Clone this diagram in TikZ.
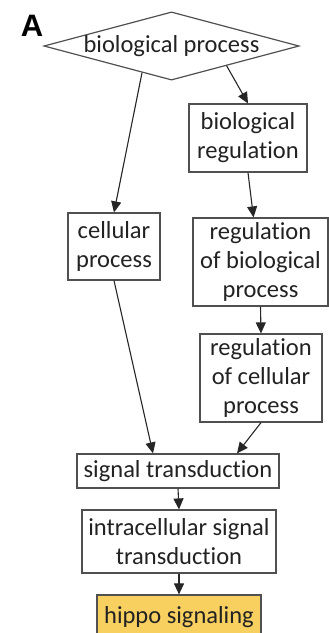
\documentclass[tikz,border=0pt]{standalone}
\usepackage{fontspec}
\setmainfont[Ligatures={NoCommon}]{Carlito}
\newfontfamily\labelfont{Liberation Sans}
\usetikzlibrary{shapes.geometric,arrows.meta,calc}
\definecolor{boxline}{HTML}{505050}
\definecolor{txt}{HTML}{222222}
\definecolor{hippofill}{HTML}{F8D060}
\begin{document}
\begin{tikzpicture}[x=1pt,y=-1pt,
  every node/.style={font=\fontsize{24.5}{29}\selectfont, text=txt},
  gobox/.style={draw=boxline, line width=1.2pt, rectangle, inner sep=0pt, align=center},
  conn/.style={draw=black!85, line width=1.1pt, -{Triangle[length=11pt,width=10pt]}}
]
\useasboundingbox (0,0) rectangle (329,633);
\node[font=\labelfont\bfseries\fontsize{31}{32}\selectfont, text=black] (lab) at (32,26) {A};
\node[draw=boxline, line width=1.2pt, diamond, aspect=3.74, minimum width=247pt, minimum height=66pt, inner sep=0pt] (bp) at (171.5,46) {biological process};
\node[gobox, minimum width=118pt, minimum height=68pt] (br) at (248,138) {biological\\regulation};
\node[gobox, minimum width=92pt, minimum height=67pt] (cp) at (114,246.5) {cellular\\process};
\node[gobox, minimum width=135pt, minimum height=88pt] (rbp) at (260.5,262) {regulation\\of biological\\process};
\node[gobox, minimum width=122pt, minimum height=88pt] (rcp) at (261,378) {regulation\\of cellular\\process};
\node[gobox, minimum width=202pt, minimum height=34pt] (st) at (178,471) {signal transduction};
\node[gobox, minimum width=194pt, minimum height=63pt] (ist) at (179,541.5) {intracellular signal\\transduction};
\node[gobox, fill=hippofill, minimum width=164pt, minimum height=44pt] (hs) at (179,617) {hippo signaling};
\draw[conn] ($(bp.south)!0.23!(bp.west)$) -- (cp.north);
\draw[conn] ($(bp.south)!0.43!(bp.east)$) -- (br.north);
\draw[conn] (br.south) -- ($(rbp.north)+(-7,0)$);
\draw[conn] (rbp.south) -- (rcp.north);
\draw[conn] (cp.south) -- ($(st.north)+(-25,0)$);
\draw[conn] (rcp.south) -- ($(st.north)+(59,0)$);
\draw[conn] (st.south) -- (ist.north);
\draw[conn] (ist.south) -- (hs.north);
\end{tikzpicture}
\end{document}
